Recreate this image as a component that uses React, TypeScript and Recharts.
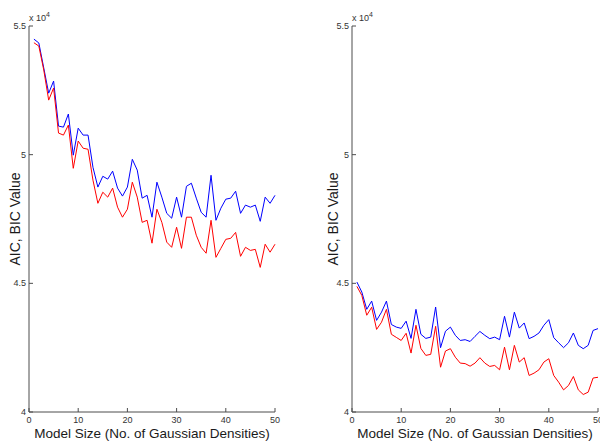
import { LineChart, Line, XAxis, YAxis } from "recharts";

// model size (no. of gaussian densities)
const sizes = [
  1, 2, 3, 4, 5, 6, 7, 8, 9, 10, 11, 12, 13, 14, 15, 16, 17, 18, 19, 20, 21, 22, 23, 24, 25,
  26, 27, 28, 29, 30, 31, 32, 33, 34, 35, 36, 37, 38, 39, 40, 41, 42, 43, 44, 45, 46, 47, 48, 49, 50,
];

// values in units of 1e4
const leftBic = [
  5.449, 5.434, 5.337, 5.239, 5.286, 5.111, 5.107, 5.158, 4.998, 5.103, 5.076, 5.076, 4.951, 4.874, 4.916,
  4.905, 4.936, 4.87, 4.839, 4.874, 4.982, 4.94, 4.831, 4.842, 4.757, 4.893, 4.835, 4.772, 4.753, 4.835,
  4.757, 4.877, 4.889, 4.831, 4.776, 4.757, 4.92, 4.745, 4.792, 4.827, 4.831, 4.858, 4.772, 4.804, 4.796,
  4.804, 4.741, 4.835, 4.811, 4.842,
];
const leftAic = [
  5.435, 5.422, 5.329, 5.212, 5.259, 5.084, 5.076, 5.115, 4.947, 5.053, 5.025, 5.021, 4.901, 4.811, 4.854,
  4.835, 4.87, 4.796, 4.757, 4.788, 4.893, 4.835, 4.737, 4.745, 4.656, 4.788, 4.737, 4.66, 4.64, 4.718,
  4.636, 4.757, 4.757, 4.687, 4.64, 4.617, 4.745, 4.601, 4.636, 4.671, 4.675, 4.698, 4.605, 4.64, 4.628,
  4.632, 4.562, 4.652, 4.621, 4.652,
];
const rightBic = [
  4.505, 4.466, 4.399, 4.431, 4.356, 4.388, 4.431, 4.34, 4.33, 4.325, 4.353, 4.286, 4.399, 4.302, 4.286,
  4.291, 4.408, 4.25, 4.314, 4.33, 4.298, 4.278, 4.281, 4.274, 4.294, 4.313, 4.298, 4.285, 4.291, 4.281,
  4.372, 4.291, 4.388, 4.326, 4.346, 4.285, 4.294, 4.307, 4.337, 4.359, 4.289, 4.269, 4.25, 4.269, 4.307,
  4.259, 4.246, 4.259, 4.317, 4.324,
];
const rightAic = [
  4.488, 4.453, 4.376, 4.407, 4.321, 4.349, 4.399, 4.302, 4.29, 4.278, 4.306, 4.229, 4.337, 4.247, 4.22,
  4.224, 4.333, 4.174, 4.237, 4.246, 4.213, 4.19, 4.188, 4.178, 4.19, 4.211, 4.19, 4.177, 4.181, 4.164,
  4.252, 4.164, 4.259, 4.194, 4.211, 4.142, 4.151, 4.164, 4.194, 4.207, 4.142, 4.116, 4.086, 4.103, 4.138,
  4.086, 4.068, 4.077, 4.132, 4.135,
];

const xTicks = [0, 10, 20, 30, 40, 50];
const yTicks = [4, 4.5, 5, 5.5];

const AXIS_C = "#4d4d4d";
const FONT = "'Liberation Sans', Arial, sans-serif";

function YTick({ x, y, payload }: any) {
  return (
    <g>
      <line x1={x} y1={y} x2={x + 4} y2={y} stroke={AXIS_C} />
      <text x={x - 3} y={y} dy={3} textAnchor="end" fontSize={9} fontFamily={FONT} fill="#333">
        {payload.value}
      </text>
    </g>
  );
}

function XTick({ x, y, payload }: any) {
  return (
    <g>
      <line x1={x} y1={y} x2={x} y2={y - 4} stroke={AXIS_C} />
      <text x={x} y={y + 11} textAnchor="middle" fontSize={9} fontFamily={FONT} fill="#333">
        {payload.value}
      </text>
    </g>
  );
}

function Panel({ bic, aic, left, yAxisW, right }: { bic: number[]; aic: number[]; left: number; yAxisW: number; right: number }) {
  const data = sizes.map((n, i) => ({ n, bic: bic[i], aic: aic[i] }));
  return (
    <div style={{ position: "absolute", left, top: 0 }}>
      <LineChart width={300} height={443} data={data} margin={{ top: 26, right, bottom: 0, left: 0 }}>
        <XAxis
          dataKey="n"
          type="number"
          domain={[0, 50]}
          ticks={xTicks}
          height={31}
          tickLine={false}
          tickSize={0}
          tickMargin={0}
          tick={<XTick />}
          axisLine={{ stroke: AXIS_C }}
          interval={0}
        />
        <YAxis
          type="number"
          domain={[4, 5.5]}
          ticks={yTicks}
          width={yAxisW}
          tickLine={false}
          tickSize={0}
          tickMargin={0}
          tick={<YTick />}
          axisLine={{ stroke: AXIS_C }}
          allowDataOverflow
          interval={0}
        />
        <Line dataKey="bic" stroke="#0000ff" strokeWidth={1} dot={false} activeDot={false} isAnimationActive={false} />
        <Line dataKey="aic" stroke="#ff0000" strokeWidth={1} dot={false} activeDot={false} isAnimationActive={false} />
      </LineChart>
    </div>
  );
}

function Titles() {
  const t = { fontFamily: FONT, fill: "#1a1a1a" };
  return (
    <svg width={600} height={443} style={{ position: "absolute", left: 0, top: 0, pointerEvents: "none" }}>
      {[
        { ax: 29, yl: 15, xc: 152 },
        { ax: 352, yl: 333, xc: 475 },
      ].map((p) => (
        <g key={p.ax}>
          <text x={p.ax} y={21} fontSize={9} {...t} fill="#333">
            x 10
            <tspan dy={-4} fontSize={7}>
              4
            </tspan>
          </text>
          <text x={p.yl} y={219} fontSize={14} textAnchor="middle" dominantBaseline="central" transform={`rotate(-90 ${p.yl} 219)`} {...t}>
            AIC, BIC Value
          </text>
          <text x={p.xc} y={438} fontSize={13.5} textAnchor="middle" {...t}>
            Model Size (No. of Gaussian Densities)
          </text>
        </g>
      ))}
    </svg>
  );
}

export default function App() {
  return (
    <div style={{ position: "absolute", left: 0, top: 0, width: 600, height: 443, background: "#fff", overflow: "hidden" }}>
      <Panel bic={leftBic} aic={leftAic} left={0} yAxisW={29} right={25} />
      <Panel bic={rightBic} aic={rightAic} left={300} yAxisW={52} right={2} />
      <Titles />
    </div>
  );
}
